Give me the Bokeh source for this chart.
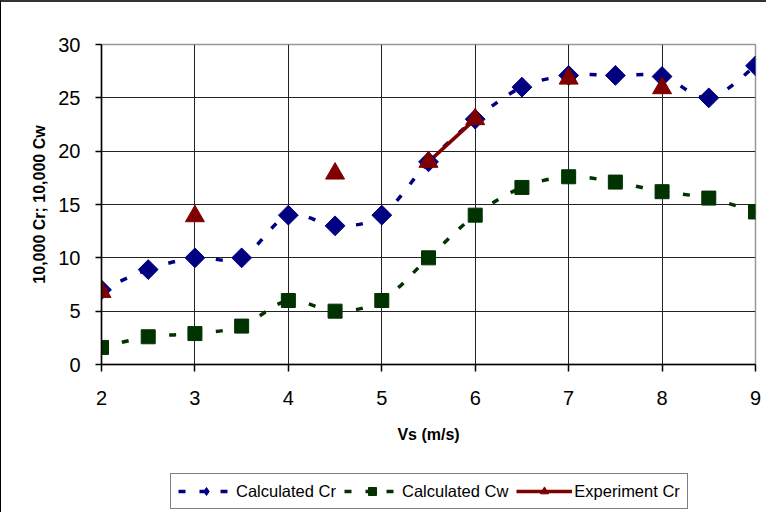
import math
from bokeh.plotting import figure
from bokeh.layouts import column
from bokeh.models import Range1d, Legend, LegendItem, ColumnDataSource
from bokeh.embed import file_html
from bokeh.resources import INLINE

# ---- data ----
vs = [2.0, 2.5, 3.0, 3.5, 4.0, 4.5, 5.0, 5.5, 6.0, 6.5, 7.0, 7.5, 8.0, 8.5, 9.0]
calc_cr = [7.0, 8.9, 10.0, 10.0, 14.0, 13.0, 14.0, 19.0, 23.0, 26.0, 27.1, 27.1, 27.0, 25.0, 28.0]
calc_cw = [1.6, 2.6, 2.9, 3.6, 6.0, 5.0, 6.0, 10.0, 14.0, 16.6, 17.6, 17.1, 16.2, 15.6, 14.3]
nan = float("nan")
exp_cr = [6.8, nan, 13.9, nan, nan, 17.9, nan, 19.0, 23.0, nan, 26.8, nan, 25.9, nan, nan]

x_ticks = [2, 3, 4, 5, 6, 7, 8, 9]
y_ticks = [0, 5, 10, 15, 20, 25, 30]
series_names = ["Calculated Cr", "Calculated Cw", "Experiment Cr"]

FONT = "Liberation Sans"
C_CR = "#000080"
C_CW = "#003300"
C_EXP = "#800000"
DASH = "7 14"


def smooth_source(xs, ys):
    """Bezier control points (Catmull-Rom style, like a spreadsheet's smoothed line)."""
    pts = list(zip(xs, ys))
    n = len(pts)
    d = dict(x0=[], y0=[], x1=[], y1=[], cx0=[], cy0=[], cx1=[], cy1=[])
    for i in range(n - 1):
        p0 = pts[i - 1] if i > 0 else pts[i]
        p1 = pts[i]
        p2 = pts[i + 1]
        p3 = pts[i + 2] if i + 2 < n else pts[i + 1]
        d["x0"].append(p1[0]); d["y0"].append(p1[1])
        d["x1"].append(p2[0]); d["y1"].append(p2[1])
        d["cx0"].append(p1[0] + (p2[0] - p0[0]) / 6.0)
        d["cy0"].append(p1[1] + (p2[1] - p0[1]) / 6.0)
        d["cx1"].append(p2[0] - (p3[0] - p1[0]) / 6.0)
        d["cy1"].append(p2[1] - (p3[1] - p1[1]) / 6.0)
    return ColumnDataSource(d)


src_cr = smooth_source(vs, calc_cr)
src_cw = smooth_source(vs, calc_cw)
BZ = dict(x0="x0", y0="y0", x1="x1", y1="y1", cx0="cx0", cy0="cy0", cx1="cx1", cy1="cy1")

# ---------------- main chart ----------------
p = figure(
    width=766, height=452,
    x_range=Range1d(2, 9), y_range=Range1d(0, 30),
    output_backend="svg", toolbar_location=None,
    min_border_left=100, min_border_right=12, min_border_top=42, min_border_bottom=90,
)
p.styles = {"border-left": "1px solid #000000", "border-top": "2px solid #333333"}
p.background_fill_color = "white"
p.border_fill_color = "white"
p.outline_line_color = "#999999"
p.outline_line_width = 1.5

for ax, ticks in ((p.xaxis[0], x_ticks), (p.yaxis[0], y_ticks)):
    ax.ticker = ticks
    ax.axis_line_color = "black"
    ax.axis_line_width = 1.5
    ax.major_tick_line_color = "black"
    ax.major_tick_line_width = 1.5
    ax.major_tick_in = 0
    ax.minor_tick_line_color = None
    ax.major_label_text_font = FONT
    ax.major_label_text_font_size = "20px"
    ax.major_label_text_color = "black"
    ax.axis_label_text_font = FONT
    ax.axis_label_text_font_size = "16px"
    ax.axis_label_text_font_style = "bold"
    ax.axis_label_text_color = "black"

p.xaxis.axis_label = "Vs (m/s)"
p.xaxis.major_tick_out = 7
p.xaxis.major_label_standoff = 19
p.xaxis.axis_label_standoff = 18
p.yaxis.axis_label = "10,000 Cr; 10,000 Cw"
p.yaxis.major_tick_out = 6
p.yaxis.major_label_standoff = 15
p.yaxis.axis_label_standoff = 7

p.xgrid.grid_line_color = "#222222"
p.ygrid.grid_line_color = "#222222"

p.bezier(source=src_cr, line_color=C_CR, line_width=3.5, line_dash=DASH, **BZ)
p.bezier(source=src_cw, line_color=C_CW, line_width=3.5, line_dash=DASH, **BZ)
p.line(vs, exp_cr, line_color=C_EXP, line_width=3.5)
p.scatter(vs, calc_cr, marker="square", angle=math.pi / 4, size=14, fill_color=C_CR, line_color=C_CR)
p.scatter(vs, calc_cw, marker="square", size=14, fill_color=C_CW, line_color=C_CW)
p.scatter(vs, exp_cr, marker="triangle", size=19, fill_color=C_EXP, line_color=C_EXP)

# ---------------- legend strip (same series, view range shows only the key) ----------------
q = figure(
    width=766, height=60,
    x_range=Range1d(100, 101), y_range=Range1d(100, 101),
    output_backend="svg", toolbar_location=None,
    x_axis_location=None, y_axis_location=None,
    min_border=0,
)
q.styles = {"border-left": "1px solid #000000"}
q.background_fill_color = "white"
q.border_fill_color = "white"
q.outline_line_color = None
q.xgrid.visible = False
q.ygrid.visible = False

k_cr_line = q.bezier(source=src_cr, line_color=C_CR, line_width=3.5, line_dash=DASH, **BZ)
k_cw_line = q.bezier(source=src_cw, line_color=C_CW, line_width=3.5, line_dash=DASH, **BZ)
k_exp_line = q.line(vs, exp_cr, line_color=C_EXP, line_width=3.5)
k_cr = q.scatter(vs, calc_cr, marker="diamond", size=14, fill_color=C_CR, line_color=C_CR)
k_cw = q.scatter(vs, calc_cw, marker="square", size=14, fill_color=C_CW, line_color=C_CW)
k_exp = q.scatter(vs, exp_cr, marker="triangle", size=19, fill_color=C_EXP, line_color=C_EXP)

legend = Legend(
    items=[
        LegendItem(label=series_names[0], renderers=[k_cr_line, k_cr]),
        LegendItem(label=series_names[1], renderers=[k_cw_line, k_cw]),
        LegendItem(label=series_names[2], renderers=[k_exp_line, k_exp]),
    ],
    orientation="horizontal",
    location=(69, 3),
    glyph_width=56, glyph_height=20,
    label_standoff=2, spacing=8, padding=7,
    label_text_font=FONT, label_text_font_size="16.5px", label_text_color="black",
    border_line_color="black", border_line_width=1,
    background_fill_color="white", background_fill_alpha=1,
)
q.add_layout(legend, "center")

layout = column(p, q, spacing=0)
open("out.html", "w").write(file_html(layout, INLINE))
